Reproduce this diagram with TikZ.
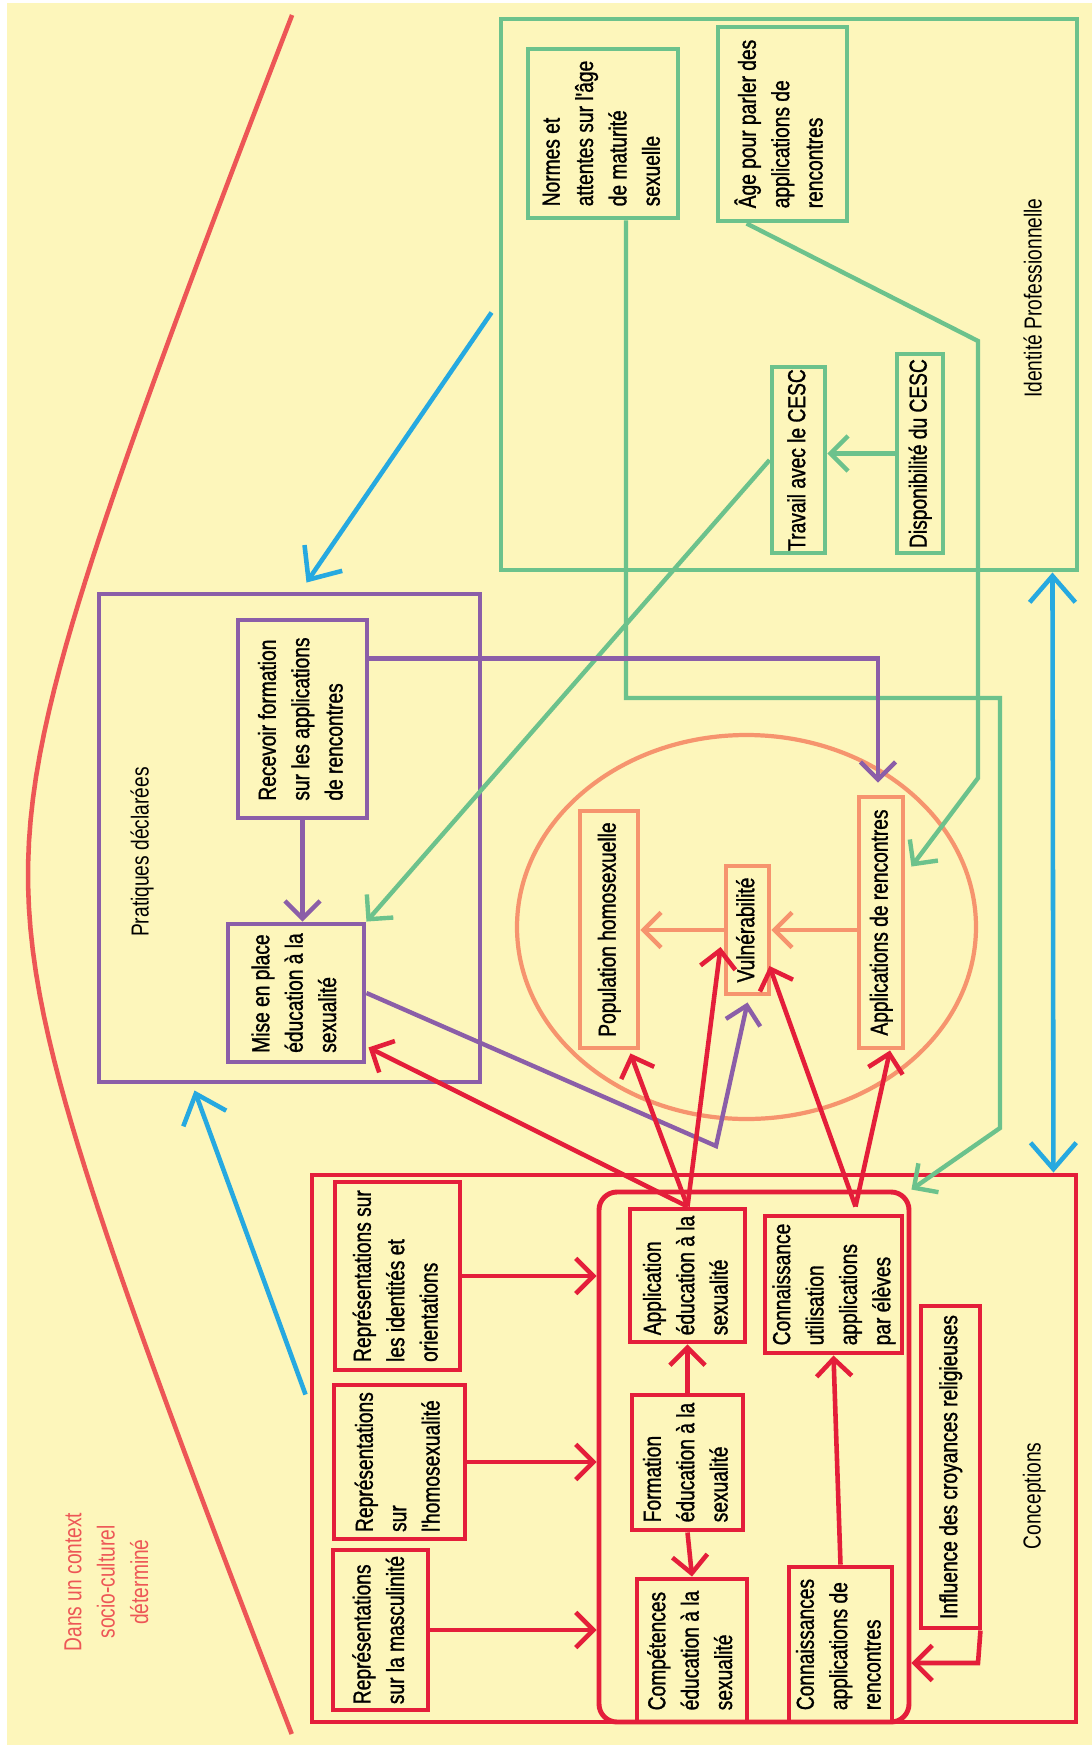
\documentclass[tikz,border=0pt]{standalone}
\usepackage{fontspec}
\setmainfont[FakeStretch=0.78]{Liberation Sans}
\newfontfamily\boxfont[FakeStretch=0.78,FakeBold=1.2]{Liberation Sans}
\usetikzlibrary{arrows.meta,calc}
\definecolor{cfond}{RGB}{253,246,187}
\definecolor{cvert}{RGB}{108,194,140}
\definecolor{cviolet}{RGB}{139,94,168}
\definecolor{cbleu}{RGB}{38,169,224}
\definecolor{crouge}{RGB}{228,30,58}
\definecolor{cctx}{RGB}{237,86,86}
\definecolor{corange}{RGB}{246,148,110}
\newcommand{\pxu}{0.02cm}
\newcommand{\vtext}[1]{\rotatebox{90}{\begin{tabular}{@{}l@{}}#1\end{tabular}}}
\newcommand{\vctext}[1]{\rotatebox{90}{\begin{tabular}{@{}c@{}}#1\end{tabular}}}
\begin{document}
\begin{tikzpicture}[x=0.02cm,y=-0.02cm,font=\fontsize{14}{19}\selectfont,
    cadre/.style={draw,line width=2.8pt,inner sep=0pt,font=\boxfont\fontsize{14}{19}\selectfont},
    vbox/.style={cadre,draw=cvert},
    pbox/.style={cadre,draw=cviolet},
    obox/.style={cadre,draw=corange},
    rbox/.style={cadre,draw=crouge},
    fleche/.style={-{Straight Barb[length=10pt,width=20pt]}},
    gline/.style={cvert,line width=2.5pt},
    pline/.style={cviolet,line width=2.5pt},
    oline/.style={corange,line width=2.5pt},
    rline/.style={crouge,line width=2.6pt},
    bline/.style={cbleu,line width=2.6pt,-{Straight Barb[length=15pt,width=26pt]}}]
    \useasboundingbox (0,0) rectangle (1092,1745);
    \fill[white] (0,0) rectangle (1092,1745);
    \fill[cfond] (7,3) rectangle (1092,1745);
    % contexte
    \draw[cctx,line width=2.6pt] plot[domain=15:1734,samples=80] ({28-92+100*sqrt(0.8464+0.16*((\x-875)/100)^2)},\x);
    \node[text=cctx] (ctx) at (108,1582) {\vctext{Dans un context\\socio-culturel\\déterminé}};
    % identite professionnelle
    \node[vbox,minimum width=576*\pxu,minimum height=551*\pxu] (ident) at (789,294.5) {};
    \node (identlbl) at (1035,298) {\vtext{Identité Professionnelle}};
    \node[vbox,minimum width=150*\pxu,minimum height=169*\pxu] (normes) at (603,133.5) {\vtext{Normes et\\attentes sur l'âge\\de maturité\\sexuelle}};
    \node[vbox,minimum width=129*\pxu,minimum height=194*\pxu] (age) at (782.5,124) {\vtext{Âge pour parler des\\applications de\\rencontres}};
    \node[vbox,minimum width=53*\pxu,minimum height=186*\pxu] (travail) at (798.5,460) {\vtext{Travail avec le CESC}};
    \node[vbox,minimum width=46*\pxu,minimum height=199*\pxu] (dispo) at (920,453.5) {\vtext{Disponibilité du CESC}};
    % pratiques declarees
    \node[pbox,minimum width=381*\pxu,minimum height=488*\pxu] (prat) at (289.5,838) {};
    \node (pratlbl) at (142,852) {\vtext{Pratiques déclarées}};
    \node[pbox,minimum width=129*\pxu,minimum height=198*\pxu] (recev) at (302.5,719) {\vtext{Recevoir formation\\sur les applications\\de rencontres}};
    \node[pbox,minimum width=136*\pxu,minimum height=138*\pxu] (mise) at (296,993) {\vtext{Mise en place\\éducation à la\\sexualité}};
    % vulnerabilite
    \draw[corange,line width=2.4pt] (746.5,927) ellipse [x radius=229.5*\pxu,y radius=192*\pxu];
    \node[obox,minimum width=58*\pxu,minimum height=237*\pxu] (popul) at (609,929.5) {\vtext{Population homosexuelle}};
    \node[obox,minimum width=43*\pxu,minimum height=128*\pxu] (vuln) at (747.5,930) {\vtext{Vulnérabilité}};
    \node[obox,minimum width=44*\pxu,minimum height=251*\pxu] (appl) at (881,922.5) {\vtext{Applications de rencontres}};
    % conceptions
    \node[rbox,minimum width=764*\pxu,minimum height=547*\pxu] (concept) at (694,1448.5) {};
    \node (conceptlbl) at (1034,1496) {\vtext{Conceptions}};
    \node[rbox,rounded corners=0.36cm,minimum width=310*\pxu,minimum height=530*\pxu] (inner) at (754,1457) {};
    \node[rbox,minimum width=125*\pxu,minimum height=188*\pxu] (repid) at (397.5,1276) {\vtext{Représentations sur\\les identités et\\orientations}};
    \node[rbox,minimum width=131*\pxu,minimum height=154*\pxu] (rephomo) at (399.5,1462) {\vtext{Représentations\\sur\\l'homosexualité}};
    \node[rbox,minimum width=95*\pxu,minimum height=160*\pxu] (repmasc) at (380.5,1630) {\vtext{Représentations\\sur la masculinité}};
    \node[rbox,minimum width=115*\pxu,minimum height=133*\pxu] (applic) at (687.5,1275.5) {\vtext{Application\\éducation à la\\sexualité}};
    \node[rbox,minimum width=111*\pxu,minimum height=135*\pxu] (form) at (687.5,1462.5) {\vtext{Formation\\éducation à la\\sexualité}};
    \node[rbox,minimum width=110*\pxu,minimum height=143*\pxu] (comp) at (692,1650.5) {\vtext{Compétences\\éducation à la\\sexualité}};
    \node[rbox,minimum width=137*\pxu,minimum height=137*\pxu] (connu) at (833.5,1284.5) {\vtext{Connaissance\\utilisation\\applications\\par élèves}};
    \node[rbox,minimum width=103*\pxu,minimum height=155*\pxu] (conna) at (840.5,1644.5) {\vtext{Connaissances\\applications de\\rencontres}};
    \node[rbox,minimum width=59*\pxu,minimum height=322*\pxu] (infl) at (950.5,1467) {\vtext{Influence des croyances religieuses}};
    % coudes
    \coordinate (coudeA) at (1000,698);
    \coordinate (coudeB) at (1000,1128);
    \coordinate (coudeC) at (978,341);
    \coordinate (coudeD) at (978,778);
    \coordinate (coudeE) at (716,1146);
    \coordinate (coudeF) at (978,1663);
    % liens verts
    \draw[gline,fleche] (dispo.west) -- (dispo.west -| travail.east);
    \draw[gline,fleche] (travail.west) -- (mise.north east);
    \draw[gline,fleche] ($(normes.south)+(23,0)$) |- (coudeA) -- (coudeB) -- (inner.north east);
    \draw[gline,fleche] ($(age.south west)+(31,0)$) -- (coudeC) -- (coudeD) -- ($(appl.north east)+(6,72)$);
    % liens violets
    \draw[pline,fleche] (recev.south) -- (recev.south |- mise.north);
    \draw[pline,fleche] ($(recev.north east)+(0,41)$) -| ($(appl.north)+(-3,-12)$);
    \draw[pline,fleche] (mise.east) -- (coudeE) -- ($(vuln.south)+(0,6)$);
    % liens oranges
    \draw[oline,fleche] (vuln.east -| appl.west) -- (vuln.east);
    \draw[oline,fleche] (vuln.west) -- (vuln.west -| popul.east);
    % liens rouges
    \draw[rline,fleche] (repid.east) -- (repid.east -| inner.west);
    \draw[rline,fleche] (rephomo.east) -- (rephomo.east -| inner.west);
    \draw[rline,fleche] (repmasc.east) -- (repmasc.east -| inner.west);
    \draw[rline,fleche] (form.north) -- (applic.south);
    \draw[rline,fleche] (form.south) -- (comp.north);
    \draw[rline,fleche] (conna.north) -- (connu.south);
    \draw[rline,fleche] ($(infl.south east)+(-2,0)$) -- (coudeF) -- (coudeF -| inner.east);
    \draw[rline,fleche] (applic.north) -- ($(mise.south east)+(2,-17)$);
    \draw[rline,fleche] (applic.north) -- ($(popul.south east)+(-10,3)$);
    \draw[rline,fleche] (applic.north) -- ($(vuln.west)+(-3,17)$);
    \draw[rline,fleche] ($(connu.north)+(22,-7)$) -- ($(vuln.east)+(-2,36)$);
    \draw[rline,fleche] ($(connu.north)+(22,-7)$) -- ($(appl.south)+(9,0)$);
    % liens bleus
    \draw[bline] ($(ident.west)+(-7,18)$) -- ($(prat.north)+(17,-9)$);
    \draw[bline] ($(concept.north west)+(-4,222)$) -- ($(prat.south west)+(98,6)$);
    \draw[bline,{Straight Barb[length=15pt,width=26pt]}-{Straight Barb[length=15pt,width=26pt]}] ($(ident.south east)+(-27,0)$) -- ($(concept.north east)+(-25,0)$);
\end{tikzpicture}
\end{document}
